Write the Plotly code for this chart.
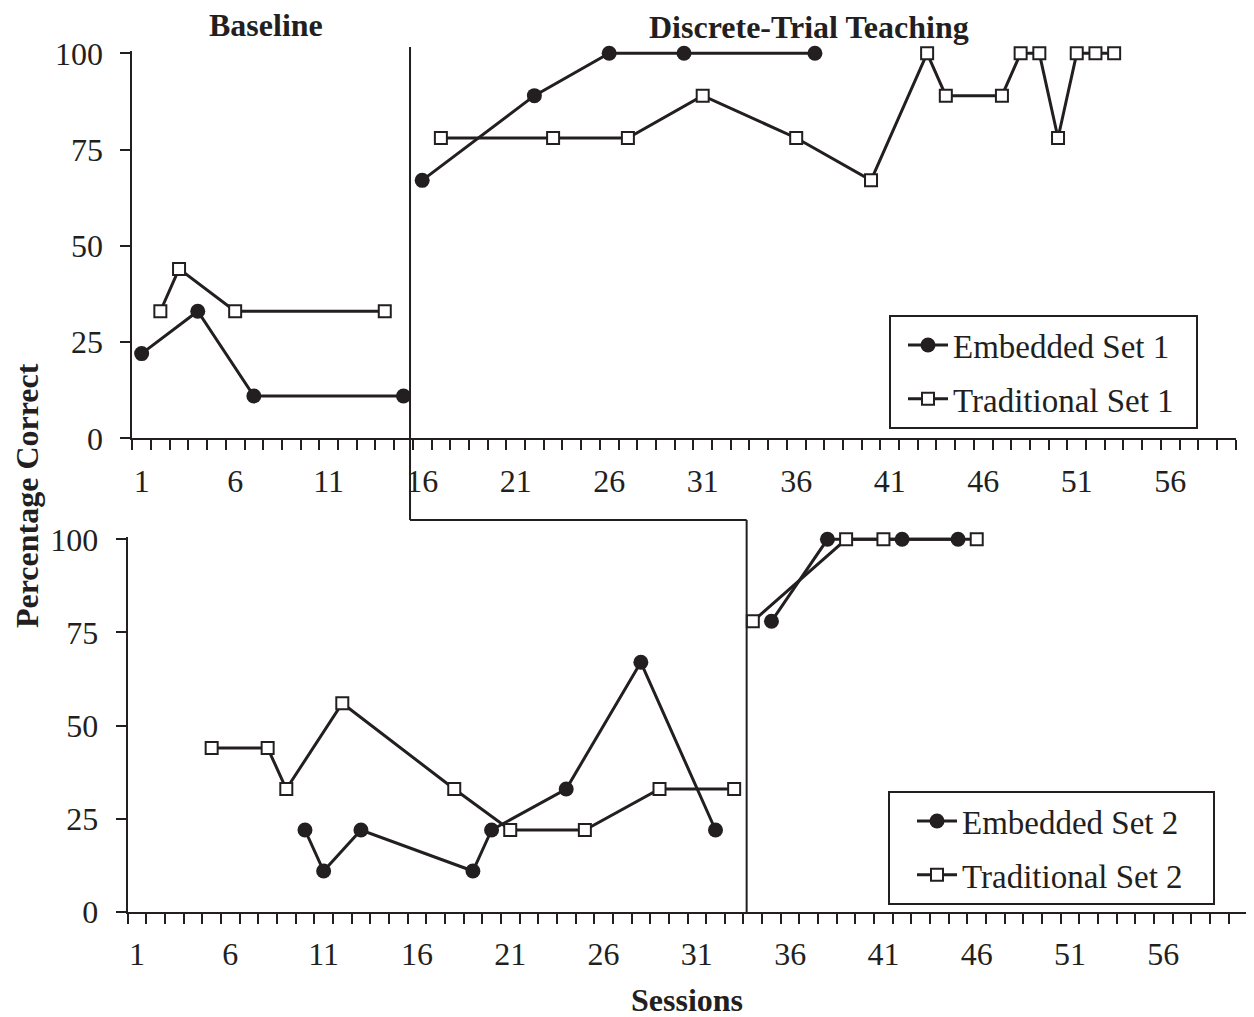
import plotly.graph_objects as go

# ---------------- data ----------------
# Set 1 (top panel)
emb1_base_sessions = [1, 4, 7, 15]
emb1_base_pct = [22, 33, 11, 11]
trad1_base_sessions = [2, 3, 6, 14]
trad1_base_pct = [33, 44, 33, 33]
emb1_dtt_sessions = [16, 22, 26, 30, 37]
emb1_dtt_pct = [67, 89, 100, 100, 100]
trad1_dtt_sessions = [17, 23, 27, 31, 36, 40, 43, 44, 47, 48, 49, 50, 51, 52, 53]
trad1_dtt_pct = [78, 78, 78, 89, 78, 67, 100, 89, 89, 100, 100, 78, 100, 100, 100]

# Set 2 (bottom panel)
emb2_base_sessions = [10, 11, 13, 19, 20, 24, 28, 32]
emb2_base_pct = [22, 11, 22, 11, 22, 33, 67, 22]
trad2_base_sessions = [5, 8, 9, 12, 18, 21, 25, 29, 33]
trad2_base_pct = [44, 44, 33, 56, 33, 22, 22, 33, 33]
emb2_dtt_sessions = [35, 38, 42, 45]
emb2_dtt_pct = [78, 100, 100, 100]
trad2_dtt_sessions = [34, 39, 41, 46]
trad2_dtt_pct = [78, 100, 100, 100]

# phase-change positions (session units)
phase_change_set1 = 15.35
phase_change_set2 = 33.67

y_ticks = [0, 25, 50, 75, 100]
x_tick_labels = [1, 6, 11, 16, 21, 26, 31, 36, 41, 46, 51, 56]

# ---------------- style ----------------
PAGE_OFF = 8            # browser body margin
W, H = 1254 - PAGE_OFF, 1017 - PAGE_OFF
INK = "#231f20"
FONT = "Liberation Serif, Times New Roman, serif"
FS = 32
NB = "\u00a0"

def px_x(p):
    return (p - PAGE_OFF) / W

def px_y(p):
    return 1 - (p - PAGE_OFF) / H

# axis geometry (page pixels)
top_x_rng = [0.5, 59.5]
bot_x_rng = [0.5, 60.5]
top_x_px = [132.3, 1235.7]
bot_x_px = [127.7, 1247.3]
y_rng = [0, 100.7]
top_y0_px, top_y100_px = 438.3, 53.3
bot_y0_px, bot_y100_px = 912.0, 539.3

def y_domain(y0px, y100px):
    per = (y0px - y100px) / 100.0
    top_px = y0px - y_rng[1] * per
    return [px_y(y0px), px_y(top_px)]

top_x_dom = [px_x(top_x_px[0]), px_x(top_x_px[1])]
bot_x_dom = [px_x(bot_x_px[0]), px_x(bot_x_px[1])]
top_y_dom = y_domain(top_y0_px, top_y100_px)
bot_y_dom = y_domain(bot_y0_px, bot_y100_px)

def to_paper_x(v, dom, rng):
    return dom[0] + (v - rng[0]) / (rng[1] - rng[0]) * (dom[1] - dom[0])

emb_marker = dict(symbol="circle", size=15, color=INK, line=dict(width=0))
trad_marker = dict(symbol="square", size=12, color="white", line=dict(width=2, color=INK))
line_style = dict(color=INK, width=3)

fig = go.Figure()

def add(xs, ys, name, marker, xa, ya, legend, show, group):
    fig.add_trace(go.Scatter(
        x=xs, y=ys, mode="lines+markers", name=name,
        marker=marker, line=line_style, xaxis=xa, yaxis=ya,
        legend=legend, showlegend=show, legendgroup=group,
        cliponaxis=False,
    ))

add(emb1_base_sessions, emb1_base_pct, "Embedded Set 1" + NB * 2, emb_marker, "x", "y", "legend", True, "e1")
add(emb1_dtt_sessions, emb1_dtt_pct, "Embedded Set 1", emb_marker, "x", "y", "legend", False, "e1")
add(trad1_base_sessions, trad1_base_pct, "Traditional Set 1" + NB * 2, trad_marker, "x", "y", "legend", True, "t1")
add(trad1_dtt_sessions, trad1_dtt_pct, "Traditional Set 1", trad_marker, "x", "y", "legend", False, "t1")

add(emb2_base_sessions, emb2_base_pct, "Embedded Set 2" + NB * 3, emb_marker, "x2", "y2", "legend2", True, "e2")
add(emb2_dtt_sessions, emb2_dtt_pct, "Embedded Set 2", emb_marker, "x2", "y2", "legend2", False, "e2")
add(trad2_base_sessions, trad2_base_pct, "Traditional Set 2" + NB * 3, trad_marker, "x2", "y2", "legend2", True, "t2")
add(trad2_dtt_sessions, trad2_dtt_pct, "Traditional Set 2", trad_marker, "x2", "y2", "legend2", False, "t2")

def xaxis_cfg(dom, rng, anchor):
    return dict(
        domain=dom, range=rng, anchor=anchor,
        showline=True, linecolor=INK, linewidth=2,
        showgrid=False, zeroline=False,
        tickmode="array", tickvals=x_tick_labels,
        ticktext=[str(v) for v in x_tick_labels],
        ticks="", ticklabelstandoff=13,
        tickfont=dict(family=FONT, size=FS, color=INK),
        minor=dict(tickmode="linear", tick0=0.5, dtick=1, ticks="outside",
                   ticklen=10, tickwidth=2, tickcolor=INK, showgrid=False),
    )

def yaxis_cfg(dom, anchor):
    return dict(
        domain=dom, range=y_rng, anchor=anchor,
        showline=True, linecolor=INK, linewidth=2,
        showgrid=False, zeroline=False,
        tickmode="array", tickvals=y_ticks,
        ticks="outside", ticklen=10, tickwidth=2, tickcolor=INK,
        ticklabelstandoff=11,
        tickfont=dict(family=FONT, size=FS, color=INK),
    )

legend_common = dict(
    font=dict(family=FONT, size=33, color=INK),
    bgcolor="white", bordercolor=INK, borderwidth=2,
    xanchor="left", yanchor="top", tracegroupgap=8,
    itemwidth=40,
)

# phase-change line
y_top_line = px_y(47)
y_step = px_y(520)
shapes = [
    dict(type="line", xref="x", yref="paper", x0=phase_change_set1, x1=phase_change_set1,
         y0=y_top_line, y1=y_step, line=dict(color=INK, width=2)),
    dict(type="line", xref="paper", yref="paper",
         x0=to_paper_x(phase_change_set1, top_x_dom, top_x_rng),
         x1=to_paper_x(phase_change_set2, bot_x_dom, bot_x_rng),
         y0=y_step, y1=y_step, line=dict(color=INK, width=2)),
    dict(type="line", xref="x2", yref="paper", x0=phase_change_set2, x1=phase_change_set2,
         y0=y_step, y1=bot_y_dom[0], line=dict(color=INK, width=2)),
]

title_font = dict(family=FONT, size=FS, color=INK)
annotations = [
    dict(text="<b>Baseline</b>", x=px_x(266), y=px_y(25), xref="paper", yref="paper",
         showarrow=False, font=title_font, xanchor="center", yanchor="middle"),
    dict(text="<b>Discrete-Trial Teaching</b>", x=px_x(809), y=px_y(27), xref="paper", yref="paper",
         showarrow=False, font=title_font, xanchor="center", yanchor="middle"),
    dict(text="<b>Percentage Correct</b>", x=px_x(27), y=px_y(496), xref="paper", yref="paper",
         showarrow=False, font=title_font, textangle=-90, xanchor="center", yanchor="middle"),
    dict(text="<b>Sessions</b>", x=px_x(687), y=px_y(1000), xref="paper", yref="paper",
         showarrow=False, font=title_font, xanchor="center", yanchor="middle"),
]

fig.update_layout(
    template="none",
    width=W, height=H,
    margin=dict(l=0, r=0, t=0, b=0),
    paper_bgcolor="white", plot_bgcolor="rgba(0,0,0,0)",
    xaxis=xaxis_cfg(top_x_dom, top_x_rng, "y"),
    yaxis=yaxis_cfg(top_y_dom, "x"),
    xaxis2=xaxis_cfg(bot_x_dom, bot_x_rng, "y2"),
    yaxis2=yaxis_cfg(bot_y_dom, "x2"),
    legend=dict(x=px_x(889), y=px_y(315), indentation=12, **legend_common),
    legend2=dict(x=px_x(888), y=px_y(791), indentation=22, **legend_common),
    shapes=shapes,
    annotations=annotations,
    showlegend=True,
)

fig.write_html("out.html")
